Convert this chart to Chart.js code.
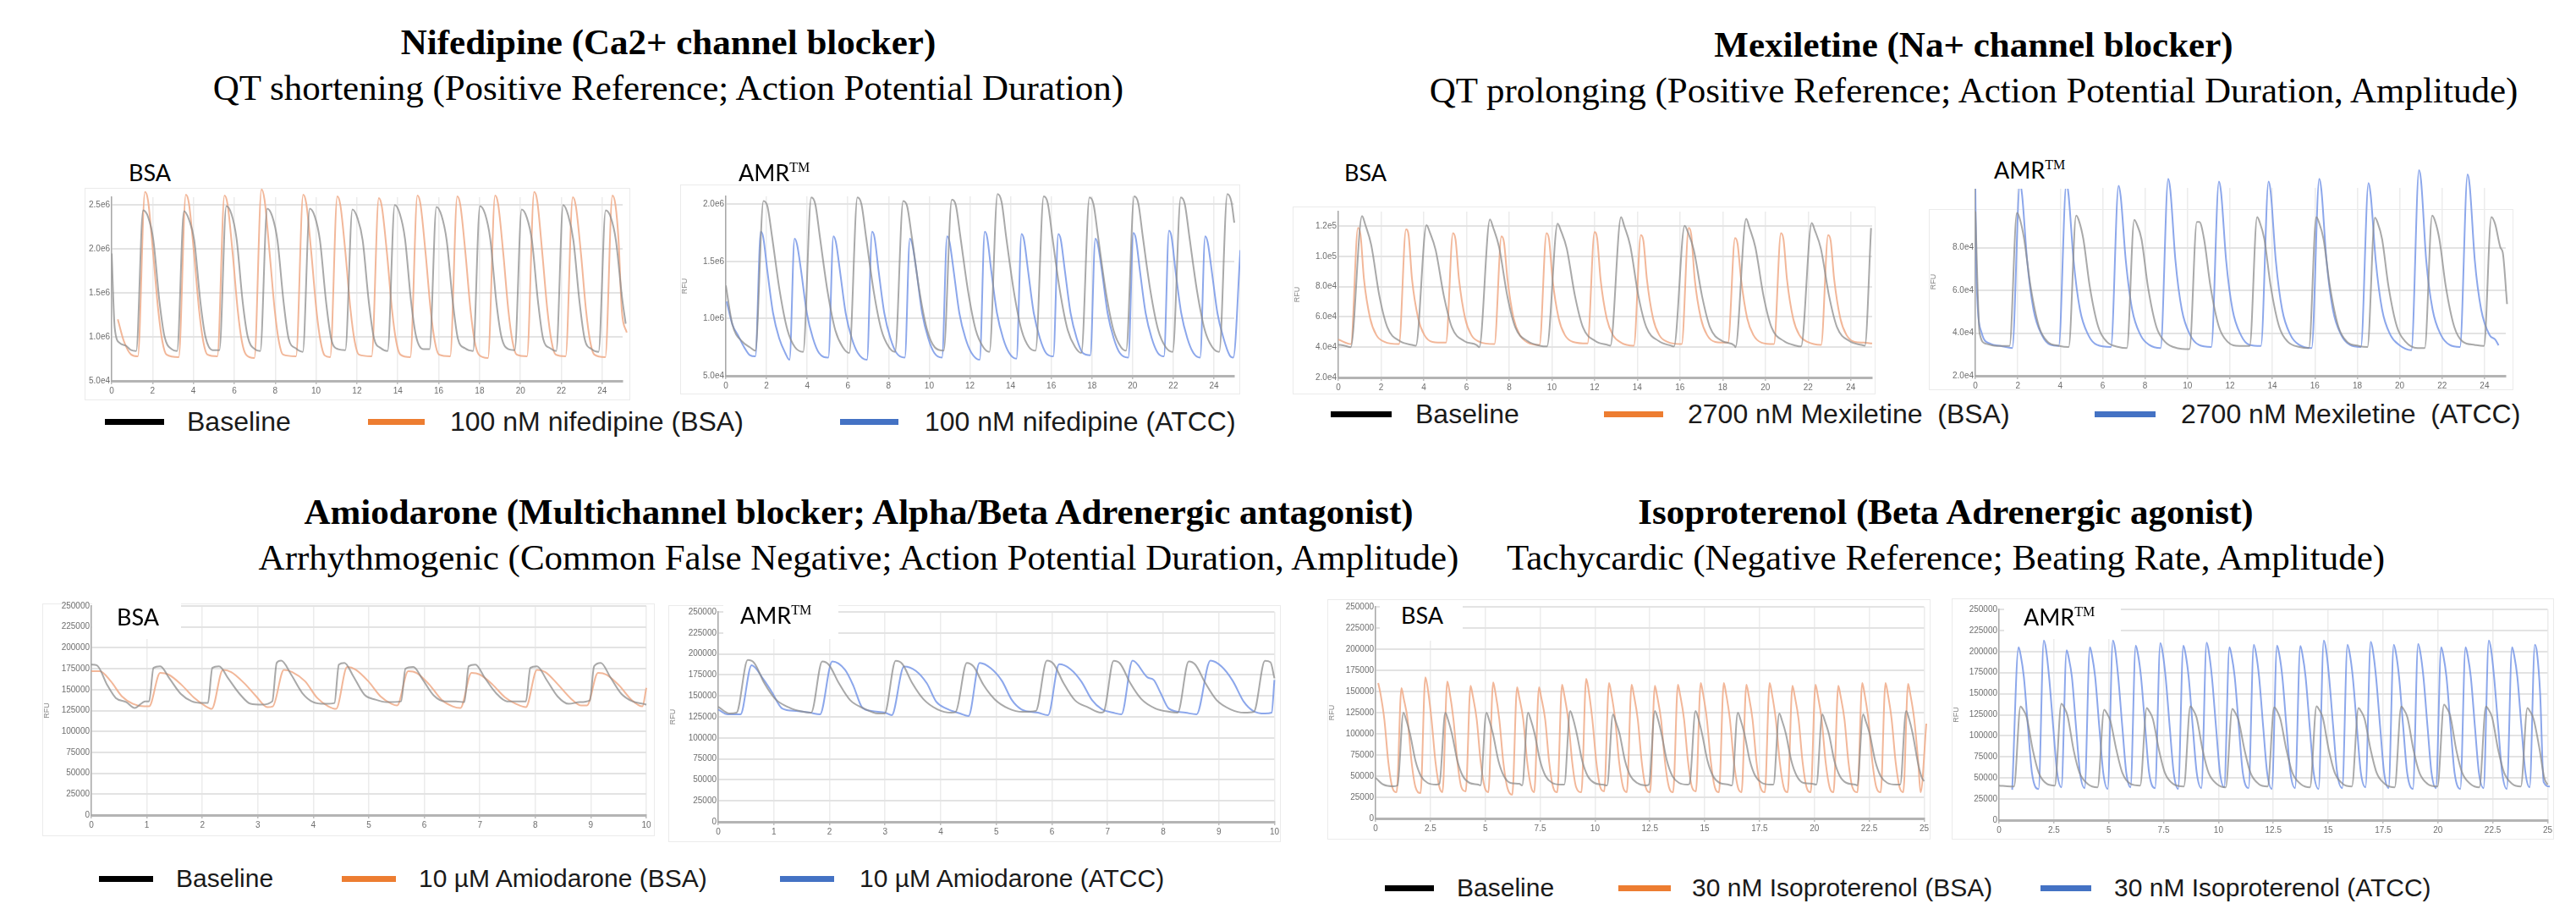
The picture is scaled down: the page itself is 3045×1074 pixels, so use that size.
<!DOCTYPE html>
<html lang="en">
<head>
<meta charset="UTF-8">
<title>Reference compounds – BSA vs AMR traces</title>
<script src="https://cdn.jsdelivr.net/npm/chart.js"></script>
<style>
  body { margin: 0; background: #fff; }
  #page { position: relative; width: 3045px; height: 1074px; overflow: hidden; background: #fff; }
  .title, .subtitle {
    position: absolute; width: 2000px; text-align: center; white-space: nowrap;
    font-family: "Liberation Serif", "Times New Roman", serif; font-size: 43px; line-height: 43px; color: #000;
  }
  .title { font-weight: bold; }
  .box { position: absolute; background: #fff; border: 1px solid #ebebeb; box-sizing: border-box; }
  canvas { position: absolute; }
  .tag {
    position: absolute; background: #fff; box-sizing: border-box; white-space: nowrap;
    font-family: Lato, "Open Sans", sans-serif; font-size: 27px; line-height: 27px; color: #000;
  }
  .tag sup { font-family: "Liberation Serif", serif; font-size: 16px; line-height: 16px; vertical-align: top; }
  .key { position: absolute; height: 7px; }
  .keytext { position: absolute; white-space: pre; font-family: "Liberation Sans", Arial, sans-serif; color: #1a1a1a; }
</style>
</head>
<body>
<div id="page">
  <div class="title" style="left:-210px; top:28px">Nifedipine (Ca2+ channel blocker)</div>
  <div class="subtitle" style="left:-210px; top:82px">QT shortening (Positive Reference; Action Potential Duration)</div>
  <div class="title" style="left:1333px; top:31px">Mexiletine (Na+ channel blocker)</div>
  <div class="subtitle" style="left:1333px; top:85px">QT prolonging (Positive Reference; Action Potential Duration, Amplitude)</div>
  <div class="title" style="left:15px; top:583px">Amiodarone (Multichannel blocker; Alpha/Beta Adrenergic antagonist)</div>
  <div class="subtitle" style="left:15px; top:637px">Arrhythmogenic (Common False Negative; Action Potential Duration, Amplitude)</div>
  <div class="title" style="left:1300px; top:583px">Isoproterenol (Beta Adrenergic agonist)</div>
  <div class="subtitle" style="left:1300px; top:637px">Tachycardic (Negative Reference; Beating Rate, Amplitude)</div>
</div>

<script>
// ---------- Nifedipine: time (s) vs RFU (x1e6) ----------
const nifXTicks = [0, 2, 4, 6, 8, 10, 12, 14, 16, 18, 20, 22, 24];
const nifYTicks = [0.5, 1, 1.5, 2, 2.5];
const nifYLabels = ['5.0e4', '1.0e6', '1.5e6', '2.0e6', '2.5e6'];
const nifLegend = ['Baseline', '100 nM nifedipine (BSA)', '100 nM nifedipine (ATCC)'];

const nifBsaBaseline = [[0,1.95],[0.15,1.1],[0.4,0.93],[0.7,0.9],[0.95,0.85],
  [1.2,0.84],[1.54,2.44],[1.79,2.36],[2.04,2.1],[2.34,1.4],[2.59,1.0],[2.94,0.86],
  [3.2,0.84],[3.54,2.43],[3.79,2.33],[4.04,2.1],[4.34,1.4],[4.59,1.0],[4.94,0.85],
  [5.27,0.85],[5.61,2.49],[5.86,2.4],[6.11,2.12],[6.41,1.4],[6.66,1.0],[7.01,0.86],
  [7.27,0.84],[7.61,2.46],[7.86,2.37],[8.11,2.1],[8.41,1.4],[8.66,0.98],[9.01,0.87],
  [9.35,0.83],[9.69,2.46],[9.94,2.37],[10.19,2.1],[10.49,1.4],[10.74,0.98],[11.09,0.86],
  [11.43,0.85],[11.78,2.45],[12.03,2.35],[12.28,2.1],[12.58,1.4],[12.83,0.99],[13.18,0.87],
  [13.5,0.84],[13.85,2.5],[14.1,2.4],[14.35,2.12],[14.65,1.4],[14.9,1.0],[15.25,0.86],
  [15.55,0.86],[15.89,2.48],[16.14,2.38],[16.39,2.1],[16.69,1.4],[16.94,0.98],[17.29,0.87],
  [17.68,0.84],[18.02,2.49],[18.27,2.4],[18.52,2.12],[18.82,1.4],[19.07,1.0],[19.42,0.86],
  [19.72,0.85],[20.06,2.45],[20.31,2.36],[20.56,2.1],[20.86,1.4],[21.11,0.98],[21.46,0.87],
  [21.75,0.84],[22.09,2.5],[22.34,2.38],[22.59,2.1],[22.89,1.4],[23.14,0.98],[23.49,0.86],
  [23.82,0.83],[24.17,2.44],[24.42,2.36],[24.67,2.1],[24.97,1.45],[25.15,1.15]];

const nifBsaDrug = [[0.3,1.2],[0.6,0.95],[0.95,0.8],[1.28,0.78],
  [1.63,2.65],[1.78,2.55],[2.03,1.95],[2.28,1.3],[2.48,0.95],[2.68,0.8],[3.28,0.77],
  [3.63,2.62],[3.78,2.52],[4.03,1.95],[4.28,1.3],[4.48,0.95],[4.68,0.8],[5.17,0.78],
  [5.52,2.61],[5.67,2.51],[5.92,1.95],[6.17,1.3],[6.37,0.95],[6.57,0.8],[6.98,0.76],
  [7.33,2.68],[7.48,2.56],[7.73,1.95],[7.98,1.3],[8.18,0.95],[8.38,0.8],[9.02,0.78],
  [9.37,2.62],[9.52,2.52],[9.77,1.95],[10.02,1.3],[10.22,0.95],[10.42,0.79],[10.69,0.77],
  [11.04,2.6],[11.19,2.5],[11.44,1.95],[11.69,1.3],[11.89,0.95],[12.09,0.8],[12.72,0.78],
  [13.07,2.58],[13.22,2.48],[13.47,1.95],[13.72,1.3],[13.92,0.95],[14.12,0.8],[14.61,0.77],
  [14.96,2.61],[15.11,2.51],[15.36,1.95],[15.61,1.3],[15.81,0.95],[16.01,0.8],[16.56,0.78],
  [16.91,2.6],[17.06,2.5],[17.31,1.95],[17.56,1.3],[17.76,0.95],[17.96,0.8],[18.41,0.76],
  [18.76,2.61],[18.91,2.51],[19.16,1.95],[19.41,1.3],[19.61,0.95],[19.81,0.8],[20.32,0.78],
  [20.67,2.65],[20.82,2.55],[21.07,1.95],[21.32,1.3],[21.52,0.95],[21.72,0.8],[22.21,0.78],
  [22.56,2.59],[22.71,2.49],[22.96,1.95],[23.21,1.3],[23.41,0.95],[23.61,0.8],[24.15,0.77],
  [24.5,2.61],[24.65,2.5],[24.8,2.1],[24.96,1.3],[25.2,1.05]];

const nifAmrBaseline = [[0,1.29],[0.32,0.95],[0.8,0.8],[1.18,0.75],
  [1.45,0.72],[1.85,2.03],[2.05,1.98],[2.27,1.72],[2.65,1.24],[3.03,0.9],[3.4,0.75],
  [3.8,0.71],[4.2,2.06],[4.4,2.0],[4.62,1.72],[5.0,1.24],[5.38,0.9],[5.75,0.75],
  [6.07,0.7],[6.47,2.06],[6.67,2.0],[6.89,1.72],[7.27,1.24],[7.65,0.9],[8.02,0.75],
  [8.32,0.71],[8.72,2.03],[8.92,1.98],[9.14,1.72],[9.52,1.24],[9.9,0.9],[10.27,0.75],
  [10.71,0.72],[11.11,2.04],[11.31,1.99],[11.53,1.72],[11.91,1.24],[12.29,0.9],[12.66,0.75],
  [12.96,0.71],[13.36,2.09],[13.56,2.02],[13.78,1.72],[14.16,1.24],[14.54,0.9],[14.91,0.75],
  [15.23,0.72],[15.63,2.07],[15.83,2.01],[16.05,1.72],[16.43,1.24],[16.81,0.9],[17.18,0.75],
  [17.48,0.7],[17.88,2.06],[18.08,2.0],[18.3,1.72],[18.68,1.24],[19.06,0.9],[19.43,0.75],
  [19.68,0.72],[20.08,2.07],[20.28,2.01],[20.5,1.72],[20.88,1.24],[21.26,0.9],[21.63,0.75],
  [21.97,0.71],[22.37,2.06],[22.57,2.0],[22.79,1.72],[23.17,1.24],[23.55,0.9],[23.92,0.75],
  [24.26,0.71],[24.66,2.09],[24.86,2.02],[25.0,1.84]];

const nifAmrDrug = [[0.04,1.15],[0.32,0.95],[0.61,0.85],[0.9,0.75],[1.18,0.68],
  [1.45,0.67],[1.72,1.76],[1.84,1.71],[2.04,1.42],[2.32,1.05],[2.62,0.83],[2.92,0.7],
  [3.13,0.64],[3.38,1.7],[3.5,1.65],[3.7,1.42],[3.98,1.05],[4.28,0.83],[4.58,0.7],
  [5.04,0.66],[5.29,1.72],[5.41,1.67],[5.61,1.42],[5.89,1.05],[6.19,0.83],[6.49,0.7],
  [6.94,0.64],[7.19,1.76],[7.31,1.71],[7.51,1.42],[7.79,1.05],[8.09,0.83],[8.39,0.7],
  [8.8,0.66],[9.05,1.7],[9.17,1.65],[9.37,1.42],[9.65,1.05],[9.95,0.83],[10.25,0.7],
  [10.63,0.66],[10.88,1.72],[11.0,1.67],[11.2,1.42],[11.48,1.05],[11.78,0.83],[12.08,0.7],
  [12.48,0.64],[12.73,1.76],[12.85,1.71],[13.05,1.42],[13.33,1.05],[13.63,0.83],[13.93,0.7],
  [14.29,0.65],[14.54,1.74],[14.66,1.69],[14.86,1.42],[15.14,1.05],[15.44,0.83],[15.74,0.7],
  [16.1,0.67],[16.35,1.74],[16.47,1.69],[16.67,1.42],[16.95,1.05],[17.25,0.83],[17.55,0.7],
  [17.92,0.68],[18.17,1.7],[18.29,1.65],[18.49,1.42],[18.77,1.05],[19.07,0.83],[19.37,0.7],
  [19.79,0.66],[20.04,1.75],[20.16,1.7],[20.36,1.42],[20.64,1.05],[20.94,0.83],[21.24,0.7],
  [21.54,0.67],[21.79,1.77],[21.91,1.72],[22.11,1.42],[22.39,1.05],[22.69,0.83],[22.99,0.7],
  [23.32,0.66],[23.57,1.72],[23.69,1.67],[23.89,1.42],[24.17,1.05],[24.47,0.83],[24.77,0.68],
  [24.95,0.66],[25.3,1.6]];

// ---------- Mexiletine: time (s) vs RFU (x1e4) ----------
const mexXTicks = [0, 2, 4, 6, 8, 10, 12, 14, 16, 18, 20, 22, 24];
const mexBsaYTicks = [2, 4, 6, 8, 10, 12];
const mexBsaYLabels = ['2.0e4', '4.0e4', '6.0e4', '8.0e4', '1.0e5', '1.2e5'];
const mexAmrYTicks = [2, 4, 6, 8];
const mexAmrYLabels = ['2.0e4', '4.0e4', '6.0e4', '8.0e4'];
const mexLegend = ['Baseline', '2700 nM Mexiletine  (BSA)', '2700 nM Mexiletine  (ATCC)'];

const mexBsaBaseline = [[0,4.17],[0.3,4.1],
  [0.58,4.0],[1.11,12.65],[1.26,12.1],[1.54,10.75],[1.92,7.4],[2.3,5.3],[2.88,4.4],[3.45,4.15],
  [3.63,4.1],[4.13,12.06],[4.28,11.6],[4.56,10.4],[4.94,7.4],[5.32,5.3],[5.9,4.4],[6.47,4.15],
  [6.6,4.0],[7.1,12.43],[7.25,11.9],[7.53,10.6],[7.91,7.4],[8.29,5.3],[8.87,4.4],[9.44,4.1],
  [9.77,4.05],[10.27,12.15],[10.42,11.7],[10.7,10.5],[11.08,7.4],[11.46,5.3],[12.04,4.4],[12.61,4.15],
  [12.74,4.1],[13.24,12.58],[13.39,12.0],[13.67,10.7],[14.05,7.4],[14.43,5.3],[15.01,4.4],[15.58,4.1],
  [15.72,4.05],[16.22,12.02],[16.37,11.6],[16.65,10.4],[17.03,7.4],[17.41,5.3],[17.99,4.4],[18.56,4.1],
  [18.6,4.0],[19.1,12.47],[19.25,11.9],[19.53,10.6],[19.91,7.4],[20.29,5.3],[20.87,4.4],[21.44,4.1],
  [21.67,4.05],[22.17,12.2],[22.32,11.7],[22.6,10.5],[22.98,7.4],[23.36,5.3],[23.94,4.4],[24.5,4.15],
  [24.66,4.1],[24.95,11.87]];

const mexBsaDrug = [[0,4.5],
  [0.59,4.2],[0.92,11.87],[1.04,11.4],[1.2,8.5],[1.49,5.9],[1.78,4.8],[2.16,4.35],
  [2.84,4.2],[3.17,11.78],[3.29,11.4],[3.45,8.5],[3.74,5.9],[4.03,4.8],[4.41,4.35],
  [5.04,4.3],[5.37,11.53],[5.49,11.1],[5.65,8.5],[5.94,5.9],[6.23,4.8],[6.61,4.35],
  [7.31,4.2],[7.64,11.31],[7.76,10.9],[7.92,8.5],[8.21,5.9],[8.5,4.8],[8.88,4.3],
  [9.42,4.15],[9.75,11.53],[9.87,11.1],[10.03,8.5],[10.32,5.9],[10.61,4.8],[10.99,4.35],
  [11.67,4.25],[12.0,11.59],[12.12,11.2],[12.28,8.5],[12.57,5.9],[12.86,4.8],[13.24,4.3],
  [13.84,4.1],[14.17,11.4],[14.29,11.0],[14.45,8.5],[14.74,5.9],[15.03,4.8],[15.41,4.35],
  [16.08,4.2],[16.41,11.87],[16.53,11.4],[16.69,8.5],[16.98,5.9],[17.27,4.8],[17.65,4.35],
  [18.25,4.3],[18.58,11.21],[18.7,10.8],[18.86,8.5],[19.15,5.9],[19.44,4.8],[19.82,4.3],
  [20.4,4.2],[20.73,11.53],[20.85,11.1],[21.01,8.5],[21.3,5.9],[21.59,4.8],[21.97,4.35],
  [22.61,4.15],[22.94,11.4],[23.06,11.0],[23.22,8.5],[23.51,5.9],[23.8,4.8],[24.18,4.35],
  [24.6,4.3],[25.0,4.25]];

const mexAmrBaseline = [[0,9.7],[0.2,4.0],[0.5,3.5],[1.0,3.4],
  [1.61,3.4],[1.96,9.63],[2.08,9.4],[2.3,8.4],[2.6,6.2],[3.0,4.3],[3.4,3.6],[3.96,3.4],
  [4.4,3.35],[4.75,9.5],[4.87,9.3],[5.09,8.4],[5.39,6.2],[5.79,4.3],[6.19,3.6],[6.75,3.35],
  [7.14,3.3],[7.49,9.3],[7.61,9.1],[7.83,8.4],[8.13,6.2],[8.53,4.3],[8.93,3.6],[9.49,3.3],
  [10.09,3.25],[10.44,9.2],[10.56,9.2],[10.78,8.4],[11.08,6.2],[11.48,4.3],[11.88,3.6],[12.44,3.4],
  [12.93,3.4],[13.28,9.43],[13.4,9.2],[13.62,8.4],[13.92,6.2],[14.32,4.3],[14.72,3.6],[15.28,3.35],
  [15.72,3.3],[16.07,9.43],[16.19,9.2],[16.41,8.4],[16.71,6.2],[17.11,4.3],[17.51,3.6],[18.07,3.4],
  [18.48,3.35],[18.83,9.4],[18.95,9.2],[19.17,8.4],[19.47,6.2],[19.87,4.3],[20.27,3.6],[20.83,3.3],
  [21.18,3.3],[21.53,9.5],[21.65,9.3],[21.87,8.4],[22.17,6.2],[22.57,4.3],[22.97,3.6],[23.53,3.45],
  [23.97,3.4],[24.32,9.43],[24.5,9.1],[24.75,8.0],[24.86,7.76],[25.06,5.36]];

const mexAmrDrug = [[0,10.8],[0.05,6.7],[0.3,4.0],[0.7,3.5],[1.2,3.4],
  [1.74,3.3],[2.1,11.0],[2.2,10.5],[2.44,7.4],[2.74,5.1],[3.14,3.9],[3.54,3.45],
  [3.93,3.4],[4.29,11.0],[4.39,10.5],[4.63,7.4],[4.93,5.1],[5.33,3.9],[5.73,3.45],
  [6.39,3.35],[6.75,10.9],[6.85,10.4],[7.09,7.4],[7.39,5.1],[7.79,3.9],[8.19,3.45],
  [8.73,3.3],[9.09,11.23],[9.19,10.7],[9.43,7.4],[9.73,5.1],[10.13,3.9],[10.53,3.45],
  [11.12,3.35],[11.48,11.1],[11.58,10.6],[11.82,7.4],[12.12,5.1],[12.52,3.9],[12.92,3.45],
  [13.46,3.4],[13.82,11.1],[13.92,10.6],[14.16,7.4],[14.46,5.1],[14.86,3.9],[15.26,3.45],
  [15.85,3.3],[16.21,11.23],[16.31,10.7],[16.55,7.4],[16.85,5.1],[17.25,3.9],[17.65,3.45],
  [18.17,3.35],[18.53,11.03],[18.63,10.5],[18.87,7.4],[19.17,5.1],[19.57,3.9],[19.97,3.45],
  [20.55,3.2],[20.91,11.63],[21.01,11.1],[21.25,7.4],[21.55,5.1],[21.95,3.9],[22.35,3.45],
  [22.84,3.35],[23.2,11.43],[23.3,10.9],[23.54,7.4],[23.84,5.1],[24.24,3.9],[24.5,3.7],[24.66,3.43]];

// ---------- Amiodarone & Isoproterenol: time (s) vs RFU (x1000) ----------
const rfuYTicks = [0, 25, 50, 75, 100, 125, 150, 175, 200, 225, 250];
const rfuYLabels = ['0', '25000', '50000', '75000', '100000', '125000', '150000', '175000', '200000', '225000', '250000'];
const amioXTicks = [0, 1, 2, 3, 4, 5, 6, 7, 8, 9, 10];
const isoXTicks = [0, 2.5, 5, 7.5, 10, 12.5, 15, 17.5, 20, 22.5, 25];
const amioLegend = ['Baseline', '10 µM Amiodarone (BSA)', '10 µM Amiodarone (ATCC)'];
const isoLegend = ['Baseline', '30 nM Isoproterenol (BSA)', '30 nM Isoproterenol (ATCC)'];

const amioBsaBaseline = [[0,180],[0.1,179],[0.29,155],[0.44,140],[0.63,135],[0.78,128],[0.97,136],
  [1.04,136],[1.12,176],[1.24,178],[1.41,163],[1.61,145],[1.81,136],[2.01,134],
  [2.1,134],[2.18,176],[2.3,178],[2.47,163],[2.67,145],[2.87,133],[3.07,132],
  [3.26,136],[3.34,182],[3.42,184.6],[3.6,168],[3.8,146],[4.0,135],[4.2,133],
  [4.38,134],[4.46,180],[4.56,182],[4.72,166],[4.92,144],[5.12,138],[5.32,135],
  [5.58,136],[5.66,175],[5.8,177],[5.97,162],[6.17,143],[6.37,136],[6.57,136],
  [6.72,135],[6.8,178],[6.92,180],[7.09,164],[7.29,146],[7.49,136],[7.69,136],
  [7.83,136],[7.91,176],[8.03,178],[8.2,162],[8.4,142],[8.6,133],[8.8,135],
  [8.98,137],[9.06,178],[9.18,182],[9.35,165],[9.55,145],[9.75,136],[9.95,133],[10,132]];

const amioBsaDrug = [[0,172],[0.15,172],[0.35,160],[0.55,142],[0.75,133],[0.95,130],
  [1.04,130],[1.24,170],[1.39,168],[1.62,156],[1.84,141],[2.04,131],
  [2.17,127],[2.37,173.5],[2.52,171],[2.75,158],[2.97,142],[3.17,129],
  [3.27,130],[3.47,173.5],[3.62,171],[3.85,160],[4.07,140],[4.27,130],
  [4.41,127],[4.61,177],[4.76,174],[4.99,160],[5.21,142],[5.41,133],
  [5.51,131],[5.71,172],[5.86,170],[6.09,156],[6.31,138],[6.51,130],
  [6.65,128],[6.85,170],[7.0,168],[7.23,156],[7.45,141],[7.65,133],
  [7.83,129],[8.03,173.5],[8.18,171],[8.41,156],[8.63,140],[8.83,131],
  [8.93,131],[9.13,170],[9.28,168],[9.51,155],[9.73,138],[9.93,130],[10,152]];

const amioAmrBaseline = [[0,137],[0.2,129],
  [0.33,130],[0.53,192.7],[0.65,189],[0.83,165],[1.03,146],[1.28,136],[1.53,131],
  [1.67,130],[1.87,191],[1.99,187],[2.17,165],[2.37,145],[2.62,135],[2.87,129],
  [2.99,129],[3.19,191.7],[3.31,188],[3.49,165],[3.69,146],[3.94,134],[4.19,130],
  [4.27,131],[4.47,189.3],[4.59,185],[4.77,163],[4.97,146],[5.22,135],[5.47,131],
  [5.71,132],[5.91,192],[6.03,188],[6.21,165],[6.41,145],[6.66,136],[6.88,130],
  [6.93,131],[7.11,191.7],[7.23,188],[7.41,165],[7.61,146],[7.86,135],[8.11,131],
  [8.26,130],[8.46,191],[8.58,187],[8.76,165],[8.96,145],[9.21,134],[9.46,130],
  [9.63,131],[9.83,191.7],[9.93,190],[10.0,171]];

const amioAmrDrug = [[0,133.7],[0.17,128],
  [0.4,128],[0.6,186.6],[0.81,170],[0.96,155],[1.15,135],[1.4,132],[1.65,130],
  [1.83,128],[2.05,191],[2.28,181],[2.43,162],[2.58,137],[2.75,132],[3.0,130],
  [3.12,127],[3.34,185],[3.55,180],[3.75,165],[3.92,143],[4.1,135],[4.35,129],
  [4.5,126],[4.7,189.3],[4.9,183],[5.1,168],[5.28,145],[5.45,134],[5.75,130],
  [5.93,127],[6.13,187.7],[6.33,182],[6.53,167],[6.72,145],[6.9,134],[7.1,130],
  [7.25,128],[7.45,192],[7.72,172],[7.83,169],[7.95,154],[8.1,135],[8.4,130],
  [8.6,128],[8.85,192],[9.05,185],[9.25,168],[9.45,143],[9.62,132],[9.83,129],[9.95,130],[10.0,169]];

const isoBsaBaseline = [[0,48],[0.36,40],[0.82,38],
  [1.0,39],[1.27,125],[1.39,117],[1.57,100],[1.82,68],[2.07,50],[2.37,42],[2.77,40],
  [2.91,41],[3.18,125],[3.3,117],[3.48,100],[3.73,68],[3.98,50],[4.28,42],[4.68,40],
  [4.78,39],[5.05,125],[5.17,117],[5.35,100],[5.6,68],[5.85,50],[6.15,42],[6.55,41],
  [6.68,39],[6.95,125],[7.07,117],[7.25,100],[7.5,68],[7.75,50],[8.05,42],[8.45,40],
  [8.6,40],[8.87,127],[8.99,119],[9.17,100],[9.42,68],[9.67,50],[9.97,42],[10.37,40],
  [10.55,39],[10.82,123],[10.94,115],[11.12,100],[11.37,68],[11.62,50],[11.92,42],[12.32,39],
  [12.46,40],[12.73,127],[12.85,119],[13.03,100],[13.28,68],[13.53,50],[13.83,42],[14.23,40],
  [14.31,41],[14.58,127],[14.7,119],[14.88,100],[15.13,68],[15.38,50],[15.68,42],[16.08,40],
  [16.24,39],[16.51,125],[16.63,117],[16.81,100],[17.06,68],[17.31,50],[17.61,42],[18.01,40],
  [18.13,40],[18.4,124],[18.52,116],[18.7,100],[18.95,68],[19.2,50],[19.5,42],[19.9,41],
  [20.09,40],[20.36,123],[20.48,115],[20.66,100],[20.91,68],[21.16,50],[21.46,42],[21.86,40],
  [21.95,39],[22.22,123],[22.34,115],[22.52,100],[22.77,68],[23.02,50],[23.32,42],[23.72,40],
  [23.91,40],[24.18,127],[24.3,119],[24.48,100],[24.73,64],[24.9,48],[25.0,44]];

const isoBsaDrug = [[0.12,160],[0.22,148],[0.4,117],[0.58,67],[0.76,37],
  [0.96,31],[1.18,154],[1.28,142],[1.46,117],[1.64,67],[1.82,37],
  [2.05,30],[2.27,166.7],[2.37,155],[2.55,117],[2.73,67],[2.91,37],
  [3.05,31],[3.27,161.7],[3.37,150],[3.55,117],[3.73,67],[3.91,37],
  [4.11,32],[4.33,156.7],[4.43,145],[4.61,117],[4.79,67],[4.97,37],
  [5.14,31],[5.36,160.7],[5.46,149],[5.64,117],[5.82,67],[6.0,37],
  [6.23,28],[6.45,155],[6.55,143],[6.73,117],[6.91,67],[7.09,37],
  [7.23,31],[7.45,155],[7.55,143],[7.73,117],[7.91,67],[8.09,37],
  [8.28,31],[8.5,158],[8.6,146],[8.78,117],[8.96,67],[9.14,37],
  [9.38,31],[9.6,165],[9.7,153],[9.88,117],[10.06,67],[10.24,37],
  [10.42,32],[10.64,160],[10.74,148],[10.92,117],[11.1,67],[11.28,37],
  [11.45,31],[11.67,158],[11.77,146],[11.95,117],[12.13,67],[12.31,37],
  [12.51,31],[12.73,156.7],[12.83,145],[13.01,117],[13.19,67],[13.37,37],
  [13.56,31],[13.78,158],[13.88,146],[14.06,117],[14.24,67],[14.42,37],
  [14.6,32],[14.82,160],[14.92,148],[15.1,117],[15.28,67],[15.46,37],
  [15.65,31],[15.87,160],[15.97,148],[16.15,117],[16.33,67],[16.51,37],
  [16.68,31],[16.9,158],[17.0,146],[17.18,117],[17.36,67],[17.54,37],
  [17.74,31],[17.96,160],[18.06,148],[18.24,117],[18.42,67],[18.6,37],
  [18.78,31],[19.0,156.7],[19.1,145],[19.28,117],[19.46,67],[19.64,37],
  [19.83,31],[20.05,158],[20.15,146],[20.33,117],[20.51,67],[20.69,37],
  [20.87,31],[21.09,156.7],[21.19,145],[21.37,117],[21.55,67],[21.73,37],
  [21.96,31],[22.18,160],[22.28,148],[22.46,117],[22.64,67],[22.82,37],
  [23.02,31],[23.24,160],[23.34,148],[23.52,117],[23.7,67],[23.88,37],
  [24.05,31],[24.27,159],[24.37,147],[24.55,117],[24.73,67],[24.84,31],[25.1,112]];

const isoAmrBaseline = [[0,41],[0.52,40],
  [0.68,40],[0.98,134.7],[1.1,131],[1.26,122],[1.54,83],[1.81,56],[2.18,43],
  [2.54,41],[2.84,138],[2.96,134],[3.12,124],[3.4,83],[3.67,56],[4.04,43],
  [4.49,39],[4.79,131],[4.91,127],[5.07,118],[5.35,83],[5.62,56],[5.99,43],
  [6.43,41],[6.73,133],[6.85,129],[7.01,120],[7.29,83],[7.56,56],[7.93,43],
  [8.42,40],[8.72,135],[8.84,131],[9.0,122],[9.28,83],[9.55,56],[9.92,43],
  [10.33,39],[10.63,132],[10.75,128],[10.91,119],[11.19,83],[11.46,56],[11.83,43],
  [12.24,40],[12.54,133.7],[12.66,130],[12.82,120],[13.1,83],[13.37,56],[13.74,43],
  [14.17,39],[14.47,135],[14.59,131],[14.75,122],[15.03,83],[15.3,56],[15.67,43],
  [16.08,40],[16.38,133],[16.5,129],[16.66,120],[16.94,83],[17.21,56],[17.58,43],
  [18.03,39],[18.33,134.7],[18.45,131],[18.61,122],[18.89,83],[19.16,56],[19.53,43],
  [19.98,40],[20.28,137],[20.4,133],[20.56,124],[20.84,83],[21.11,56],[21.48,43],
  [21.89,39],[22.19,134.7],[22.31,131],[22.47,122],[22.75,83],[23.02,56],[23.39,43],
  [23.78,40],[24.08,133],[24.2,129],[24.36,120],[24.64,83],[24.85,50],[25.0,42]];

const isoAmrDrug = [[0.6,36],[0.89,205],[0.99,195],[1.13,170],[1.32,110],[1.5,56],
  [1.8,37],[2.04,213],[2.14,203],[2.28,170],[2.47,110],[2.65,56],
  [2.84,39],[3.08,201.5],[3.18,192],[3.32,170],[3.51,110],[3.69,56],
  [3.9,38],[4.14,205],[4.24,195],[4.38,170],[4.57,110],[4.75,56],
  [4.95,37],[5.19,213],[5.29,203],[5.43,170],[5.62,110],[5.8,56],
  [5.99,39],[6.23,207],[6.33,197],[6.47,170],[6.66,110],[6.84,56],
  [7.11,38],[7.35,210],[7.45,200],[7.59,170],[7.78,110],[7.96,56],
  [8.16,37],[8.4,207],[8.5,197],[8.64,170],[8.83,110],[9.01,56],
  [9.22,38],[9.46,210.5],[9.56,200],[9.7,170],[9.89,110],[10.07,56],
  [10.26,39],[10.5,205],[10.6,195],[10.74,170],[10.93,110],[11.11,56],
  [11.37,38],[11.61,208],[11.71,198],[11.85,170],[12.04,110],[12.22,56],
  [12.43,37],[12.67,207],[12.77,197],[12.91,170],[13.1,110],[13.28,56],
  [13.49,38],[13.73,206.5],[13.83,196],[13.97,170],[14.16,110],[14.34,56],
  [14.56,37],[14.8,213],[14.9,203],[15.04,170],[15.23,110],[15.41,56],
  [15.64,38],[15.88,208],[15.98,198],[16.12,170],[16.31,110],[16.49,56],
  [16.7,39],[16.94,211.5],[17.04,201],[17.18,170],[17.37,110],[17.55,56],
  [17.75,38],[17.99,208],[18.09,198],[18.23,170],[18.42,110],[18.6,56],
  [18.86,37],[19.1,209],[19.2,199],[19.34,170],[19.53,110],[19.71,56],
  [19.91,38],[20.15,205],[20.25,195],[20.39,170],[20.58,110],[20.76,56],
  [21.02,37],[21.26,205],[21.36,195],[21.5,170],[21.69,110],[21.87,56],
  [22.08,38],[22.32,213],[22.42,203],[22.56,170],[22.75,110],[22.93,56],
  [23.14,37],[23.38,205],[23.48,195],[23.62,170],[23.81,110],[23.99,56],
  [24.18,39],[24.42,208],[24.52,198],[24.66,150],[24.82,45],[25.1,40],[25.35,195]];

// ---------- layout & styling ----------
const GRAY = 'rgba(140,140,140,0.75)';
const ORANGE = 'rgba(240,170,135,0.85)';
const BLUE = 'rgba(120,152,232,0.85)';
const legendColors = ['#000000', '#ED7D31', '#4472C4'];

const charts = [
  { box: [100, 222, 745, 473], plot: [132, 233, 736, 450], y: [0.5, 2.59], x: 25, rfu: false,
    xTicks: nifXTicks, yTicks: nifYTicks, yLabels: nifYLabels, series: [[nifBsaBaseline, GRAY], [nifBsaDrug, ORANGE]] },
  { box: [804, 218, 1466, 466], plot: [858, 232, 1459, 444], y: [0.5, 2.07], x: 25, rfu: true,
    xTicks: nifXTicks, yTicks: nifYTicks, yLabels: nifYLabels, series: [[nifAmrBaseline, GRAY], [nifAmrDrug, BLUE]] },
  { box: [1528, 244, 2217, 466], plot: [1582, 250, 2213, 446], y: [2, 12.95], x: 25, rfu: true,
    xTicks: mexXTicks, yTicks: mexBsaYTicks, yLabels: mexBsaYLabels, series: [[mexBsaBaseline, GRAY], [mexBsaDrug, ORANGE]] },
  { box: [2280, 247, 2971, 461], plot: [2335, 222, 2962, 444], y: [2, 10.8], x: 25, rfu: true, top: 195,
    xTicks: mexXTicks, yTicks: mexAmrYTicks, yLabels: mexAmrYLabels, series: [[mexAmrBaseline, GRAY], [mexAmrDrug, BLUE]] },
  { box: [50, 713, 774, 988], plot: [108, 716, 764, 963], y: [0, 250], x: 10, rfu: true,
    xTicks: amioXTicks, yTicks: rfuYTicks, yLabels: rfuYLabels, series: [[amioBsaBaseline, GRAY], [amioBsaDrug, ORANGE]] },
  { box: [790, 715, 1514, 995], plot: [849, 723, 1507, 971], y: [0, 250], x: 10, rfu: true,
    xTicks: amioXTicks, yTicks: rfuYTicks, yLabels: rfuYLabels, series: [[amioAmrBaseline, GRAY], [amioAmrDrug, BLUE]] },
  { box: [1569, 708, 2282, 992], plot: [1626, 717, 2275, 967], y: [0, 250], x: 25, rfu: true,
    xTicks: isoXTicks, yTicks: rfuYTicks, yLabels: rfuYLabels, series: [[isoBsaBaseline, GRAY], [isoBsaDrug, ORANGE]] },
  { box: [2307, 707, 3019, 992], plot: [2363, 720, 3012, 969], y: [0, 250], x: 25, rfu: true,
    xTicks: isoXTicks, yTicks: rfuYTicks, yLabels: rfuYLabels, series: [[isoAmrBaseline, GRAY], [isoAmrDrug, BLUE]] }
];

// text tag (BSA / AMR™): [label, box l, t, r, b, text x, text top]
const tags = [
  ['BSA', 129, 170, 227, 222, 152, 190],
  ['AMR', 850, 170, 987, 217, 873, 190],
  ['BSA', 1580, 185, 1660, 222, 1589, 190],
  ['AMR', 2333, 177, 2473, 223, 2357, 187],
  ['BSA', 109, 713, 214, 755, 138, 715],
  ['AMR', 855, 713, 991, 755, 875, 713],
  ['BSA', 1631, 710, 1729, 757, 1656, 713],
  ['AMR', 2369, 713, 2507, 755, 2392, 715]
];

const legends = [
  { labels: nifLegend, cy: 498, size: 32, keys: [[124, 194], [435, 502], [993, 1062]], texts: [221, 532, 1093] },
  { labels: mexLegend, cy: 489, size: 32, keys: [[1573, 1645], [1896, 1966], [2476, 2548]], texts: [1673, 1995, 2578] },
  { labels: amioLegend, cy: 1038, size: 30, keys: [[117, 181], [404, 468], [922, 986]], texts: [208, 495, 1016] },
  { labels: isoLegend, cy: 1049, size: 30, keys: [[1637, 1695], [1913, 1975], [2412, 2472]], texts: [1722, 2000, 2499] }
];

const page = document.getElementById('page');

function addEl(cls, css, html) {
  const el = document.createElement('div');
  el.className = cls;
  Object.assign(el.style, css);
  if (html !== undefined) el.innerHTML = html;
  page.appendChild(el);
  return el;
}

charts.forEach(function (c) {
  const [bl, bt, br, bb] = c.box;
  const [pl, pt, pr, pb] = c.plot;
  addEl('box', { left: bl + 'px', top: bt + 'px', width: (br - bl) + 'px', height: (bb - bt) + 'px' });

  const top = c.top !== undefined ? c.top : Math.min(bt, pt - 12);
  const canvas = document.createElement('canvas');
  canvas.width = br - bl;
  canvas.height = bb - top;
  canvas.style.left = bl + 'px';
  canvas.style.top = top + 'px';
  page.appendChild(canvas);

  new Chart(canvas.getContext('2d'), {
    type: 'line',
    data: {
      datasets: c.series.map(function (s) {
        return {
          data: s[0].map(p => ({ x: p[0], y: p[1] })),
          borderColor: s[1],
          borderWidth: 2,
          pointRadius: 0,
          cubicInterpolationMode: 'monotone',
          clip: { left: 0, top: false, right: 14, bottom: 0 }
        };
      })
    },
    options: {
      responsive: false,
      animation: false,
      events: [],
      layout: { padding: { top: pt - top, right: br - pr, left: 0, bottom: 0 } },
      plugins: { legend: { display: false }, tooltip: { enabled: false } },
      scales: {
        x: {
          type: 'linear', min: 0, max: c.x,
          afterBuildTicks: s => { s.ticks = c.xTicks.map(v => ({ value: v })); },
          afterFit: s => { s.height = bb - pb; },
          grid: { color: '#ececec', lineWidth: 1.5, tickLength: 4, tickColor: '#bdbdbd' },
          border: { color: '#b4b4b4', width: 3 },
          ticks: { font: { size: 10, family: 'Liberation Sans' }, color: '#6e6e6e', padding: 2, maxRotation: 0, autoSkip: false,
                   callback: v => String(v) }
        },
        y: {
          type: 'linear', min: c.y[0], max: c.y[1],
          afterBuildTicks: s => { s.ticks = c.yTicks.map(v => ({ value: v })); },
          afterFit: s => { s.width = pl - bl; },
          grid: { color: '#e3e3e3', lineWidth: 2, drawTicks: false },
          border: { color: '#a8a8a8', width: 1.5 },
          ticks: { font: { size: 10, family: 'Liberation Sans' }, color: '#6e6e6e', padding: 2,
                   callback: v => c.yLabels[c.yTicks.indexOf(v)] },
          title: { display: c.rfu, text: 'RFU', font: { size: 9, family: 'Liberation Sans' }, color: '#858585', padding: { top: 0, bottom: 1 } }
        }
      }
    }
  });
});

tags.forEach(function (t) {
  const [label, l, tp, r, b, tx, ty] = t;
  const html = label === 'AMR' ? 'AMR<sup>TM</sup>' : label;
  addEl('tag', { left: l + 'px', top: tp + 'px', width: (r - l) + 'px', height: (b - tp) + 'px',
                 paddingLeft: (tx - l) + 'px', paddingTop: (ty - tp) + 'px' }, html);
});

legends.forEach(function (g) {
  g.labels.forEach(function (label, i) {
    const [k0, k1] = g.keys[i];
    addEl('key', { left: k0 + 'px', top: (g.cy - 3.5) + 'px', width: (k1 - k0) + 'px', background: legendColors[i] });
    const t = addEl('keytext', { left: g.texts[i] + 'px', top: Math.round(g.cy - g.size * 0.49) + 'px',
                                 fontSize: g.size + 'px', lineHeight: g.size + 'px' });
    t.textContent = label;
  });
});
</script>
</body>
</html>
